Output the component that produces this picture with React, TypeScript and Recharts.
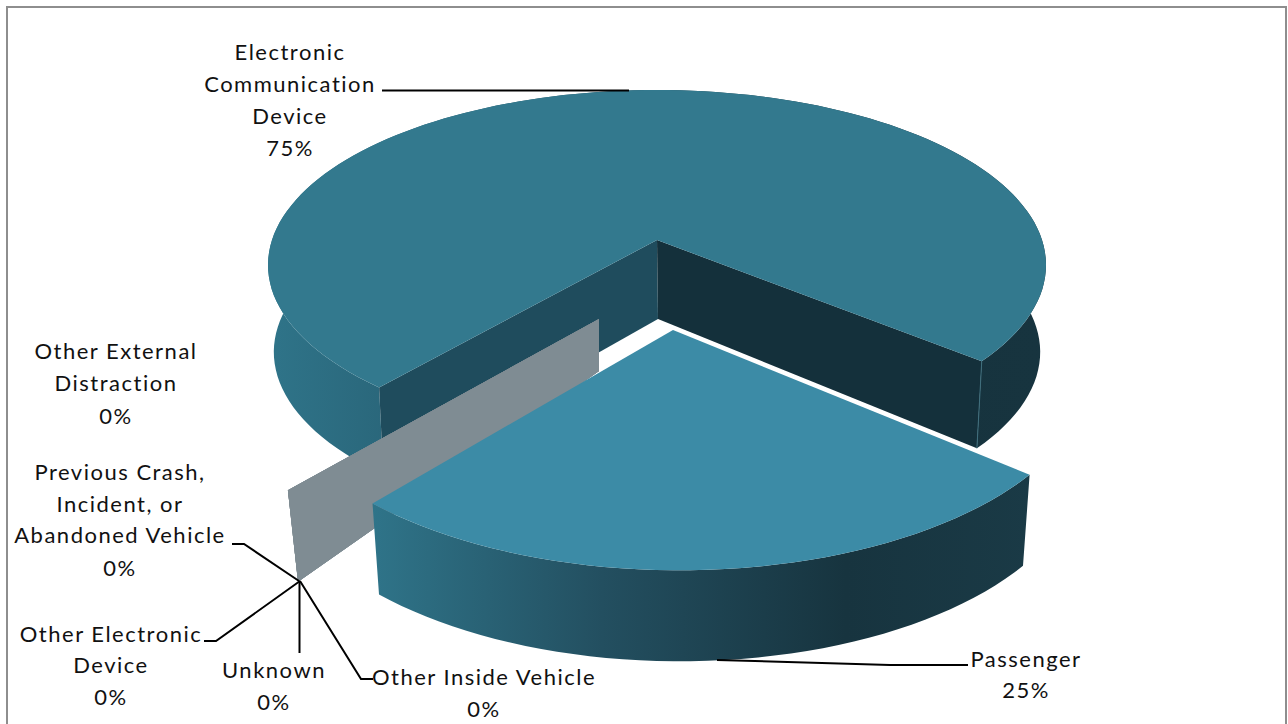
import React from 'react';
import { PieChart, Pie } from 'recharts';

const categories = [
  'Electronic Communication Device',
  'Other External Distraction',
  'Previous Crash, Incident, or Abandoned Vehicle',
  'Other Electronic Device',
  'Unknown',
  'Other Inside Vehicle',
  'Passenger',
];
const shares = [75, 0, 0, 0, 0, 0, 25];
const tableData = categories.map((name, i) => ({ name, value: shares[i] }));

const FONT = 'Lato, sans-serif';

type Proj = { ax: number; ay: number; k: number; j: number; R: number; H: number };

const project = (deg: number, p: Proj) => {
  const t = (-deg * Math.PI) / 180;
  const u = Math.cos(t);
  const v = Math.sin(t);
  const w = 1 - p.k * v - p.j * u;
  return [p.ax + (p.R * u) / w, p.ay + (p.H * v) / w];
};

const arc = (from: number, to: number, p: Proj, drop = 0, pivot = 0, scale = 1) => {
  const n = Math.max(1, Math.ceil(Math.abs(to - from) / 2));
  const pts: number[][] = [];
  for (let i = 0; i <= n; i++) {
    const [x, y] = project(from + ((to - from) * i) / n, p);
    pts.push([pivot + (x - pivot) * scale, y + drop]);
  }
  return pts;
};
const toPath = (pts: number[][]) =>
  'M' + pts.map((q) => `${q[0].toFixed(1)},${q[1].toFixed(1)}`).join('L') + 'Z';

const MAIN: Proj = { ax: 657, ay: 240, k: 1 / 7, j: 0, R: 385, H: 171.4 };
const SLICE: Proj = { ax: 673, ay: 330, k: 0.18, j: 0.013, R: 407, H: 197 };
const GREY_TOP: Proj = { ax: 599, ay: 319, k: 1 / 7, j: 0, R: 431, H: 199 };
const GREY_BOTTOM: Proj = { ax: 599, ay: 371, k: 1 / 7, j: 0, R: 417, H: 245 };

const SectorShape = (props: any) => {
  const { startAngle, endAngle, value } = props;
  if (value === 0) {
    const a = project(endAngle, GREY_TOP);
    const b = project(endAngle, GREY_BOTTOM);
    return (
      <path
        d={toPath([[GREY_TOP.ax, GREY_TOP.ay], a, b, [GREY_BOTTOM.ax, GREY_BOTTOM.ay]])}
        fill="#7f8c93"
      />
    );
  }
  if (value > 50) {
    const drop = 87;
    const top = arc(startAngle, endAngle, MAIN);
    const bottom = arc(startAngle, endAngle, MAIN, drop, 657, 0.985);
    const rightTop = top[0];
    const rightBottom = bottom[0];
    const leftTop = top[top.length - 1];
    const leftBottom = bottom[bottom.length - 1];
    const apex = [MAIN.ax, MAIN.ay];
    const notch = [MAIN.ax + 1, MAIN.ay + 79];
    return (
      <g>
        <defs>
          <linearGradient id="mainWall" gradientUnits="userSpaceOnUse" x1="268" y1="0" x2="1045" y2="0">
            <stop offset="0" stopColor="#2f7489" />
            <stop offset="0.15" stopColor="#2a677b" />
            <stop offset="0.8" stopColor="#16333e" />
            <stop offset="1" stopColor="#17343f" />
          </linearGradient>
        </defs>
        <path d={toPath([...top, ...bottom.slice().reverse()])} fill="url(#mainWall)" />
        <path d={toPath([apex, leftTop, leftBottom, notch])} fill="#1f4c5d" />
        <path d={toPath([apex, rightTop, rightBottom, notch])} fill="#14303b" />
        <line x1={rightTop[0]} y1={rightTop[1]} x2={rightBottom[0]} y2={rightBottom[1]} stroke="#3f6f7e" strokeWidth={1} />
        <path d={toPath([apex, ...top])} fill="#33798e" />
      </g>
    );
  }
  const top = arc(startAngle, endAngle, SLICE);
  const bottom = arc(startAngle, endAngle, SLICE, 91, 700, 0.98);
  return (
    <g>
      <defs>
        <linearGradient id="sliceWall" gradientUnits="userSpaceOnUse" x1="372" y1="0" x2="1030" y2="0">
          <stop offset="0" stopColor="#2f7489" />
          <stop offset="0.35" stopColor="#234f60" />
          <stop offset="0.72" stopColor="#17343f" />
          <stop offset="1" stopColor="#1a3a46" />
        </linearGradient>
      </defs>
      <path d={toPath([...top, ...bottom.slice().reverse()])} fill="url(#sliceWall)" />
      <path d={toPath([[SLICE.ax, SLICE.ay], ...top])} fill="#3c8ba6" />
    </g>
  );
};

type LabelSpot = { x: number; lines: string[]; baselines: number[]; leader?: number[][] };
const labelSpots: Record<string, LabelSpot> = {
  'Electronic Communication Device': {
    x: 290,
    lines: ['Electronic', 'Communication', 'Device'],
    baselines: [60, 92, 124, 156],
    leader: [[382, 90.5], [629, 90.5]],
  },
  'Other External Distraction': {
    x: 116,
    lines: ['Other External', 'Distraction'],
    baselines: [359, 391, 424],
  },
  'Previous Crash, Incident, or Abandoned Vehicle': {
    x: 120,
    lines: ['Previous Crash,', 'Incident, or', 'Abandoned Vehicle'],
    baselines: [480, 512, 543, 576],
    leader: [[232, 544], [244, 544], [299, 581]],
  },
  'Other Electronic Device': {
    x: 111,
    lines: ['Other Electronic', 'Device'],
    baselines: [642, 673, 705],
    leader: [[204, 641], [216, 641], [300, 581]],
  },
  Unknown: {
    x: 274,
    lines: ['Unknown'],
    baselines: [678, 710],
    leader: [[299.5, 581], [299.5, 653]],
  },
  'Other Inside Vehicle': {
    x: 484,
    lines: ['Other Inside Vehicle'],
    baselines: [685, 717],
    leader: [[300, 581], [361, 679], [373, 679]],
  },
  Passenger: {
    x: 1026,
    lines: ['Passenger'],
    baselines: [667, 698],
    leader: [[717, 660], [890, 665], [968, 665]],
  },
};

const renderLabel = (props: any) => {
  const spot = labelSpots[props.name];
  if (!spot) return null;
  const texts = [...spot.lines, `${Math.round((props.percent || 0) * 100)}%`];
  return (
    <g>
      {spot.leader && (
        <polyline
          points={spot.leader.map((q) => q.join(',')).join(' ')}
          fill="none"
          stroke="#000"
          strokeWidth={2}
        />
      )}
      <text textAnchor="middle" fontFamily={FONT} fontSize={22} letterSpacing={1.5} fill="#111">
        {texts.map((t, i) => (
          <tspan key={i} x={spot.x} y={spot.baselines[i]}>
            {t}
          </tspan>
        ))}
      </text>
    </g>
  );
};

export default function App() {
  return (
    <div style={{ position: 'absolute', left: 0, top: 0, width: 1288, height: 724, background: '#fff' }}>
      <div
        style={{
          position: 'absolute',
          left: 6,
          top: 6,
          width: 1281,
          height: 718,
          boxSizing: 'border-box',
          borderLeft: '2px solid #8e8e8e',
          borderTop: '2px solid #8e8e8e',
          borderRight: '2px solid #8e8e8e',
        }}
      />
      <div style={{ position: 'absolute', left: 0, top: 0 }}>
        <PieChart width={1288} height={724} margin={{ top: 0, right: 0, bottom: 0, left: 0 }}>
          <Pie
            data={tableData}
            dataKey="value"
            nameKey="name"
            cx={657}
            cy={240}
            outerRadius={385}
            startAngle={-40}
            endAngle={320}
            stroke="none"
            isAnimationActive={false}
            shape={SectorShape}
            inactiveShape={SectorShape}
            activeShape={SectorShape}
            label={renderLabel}
            labelLine={false}
          />
        </PieChart>
      </div>
    </div>
  );
}
